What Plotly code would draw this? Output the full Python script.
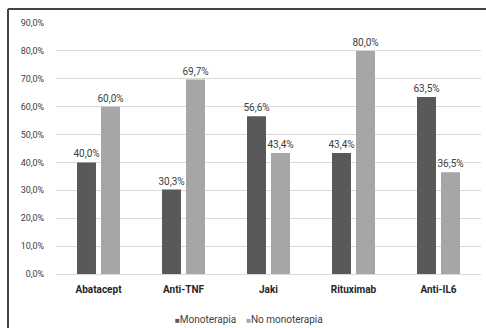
import plotly.graph_objects as go

# Share of patients per treatment group (percent)
categories = ["Abatacept", "Anti-TNF", "Jaki", "Rituximab", "Anti-IL6"]
monoterapia = [40.0, 30.3, 56.6, 43.4, 63.5]
no_monoterapia = [60.0, 69.7, 43.4, 80.0, 36.5]
series_names = ["Monoterapia", "No monoterapia"]
y_ticks = [0, 10, 20, 30, 40, 50, 60, 70, 80, 90]
y_tick_text = [f"{v:.1f}%".replace(".", ",") for v in y_ticks]

DARK = "#595959"
LIGHT = "#A6A6A6"
TEXT = "#404040"
FRAME = "#454545"
FONT = "Roboto"

fig = go.Figure()
for name, values, color in [(series_names[0], monoterapia, DARK),
                            (series_names[1], no_monoterapia, LIGHT)]:
    fig.add_trace(go.Bar(
        x=categories, y=values, name=name,
        marker=dict(color=color, line=dict(width=0)),
        texttemplate="%{y:.1f}%", textposition="outside",
        textfont=dict(family=FONT, size=10, color=TEXT),
        constraintext="none",
        cliponaxis=False, showlegend=False,
    ))

# Outer frame (left and top border) drawn on a full-page overlay subplot
fig.add_trace(go.Scatter(
    x=[0, 0, 1.05], y=[-0.05, 1, 1], xaxis="x2", yaxis="y2",
    mode="lines", line=dict(color=FRAME, width=2),
    cliponaxis=False, showlegend=False, hoverinfo="skip",
))

fig.update_layout(
    width=486, height=328,
    margin=dict(l=8, r=0, t=9, b=0, autoexpand=False),
    paper_bgcolor="white", plot_bgcolor="rgba(0,0,0,0)",
    barmode="group", bargap=0.435, bargroupgap=0.21,
    separators=",.",
    font=dict(family=FONT, size=9, color=TEXT),
    xaxis=dict(
        domain=[0.10042, 0.98954], anchor="y",
        showgrid=False, showline=True, linecolor="#D9D9D9", linewidth=1,
        tickfont=dict(family=FONT, size=10, color="#262626", weight="bold"),
        ticks="outside", ticklen=6, tickcolor="rgba(0,0,0,0)",
    ),
    yaxis=dict(
        domain=[0.16928, 0.95611], anchor="x",
        range=[0, 90], tickmode="array", tickvals=y_ticks, ticktext=y_tick_text,
        showgrid=True, gridcolor="#D9D9D9", gridwidth=1,
        zeroline=False, showline=False,
        tickfont=dict(family=FONT, size=9, color=TEXT),
        ticks="outside", ticklen=9, tickcolor="rgba(0,0,0,0)",
    ),
    xaxis2=dict(domain=[0, 1], anchor="y2", range=[0, 1], visible=False,
                fixedrange=True),
    yaxis2=dict(domain=[0, 1], anchor="x2", range=[0, 1], visible=False,
                fixedrange=True),
)

# Same border as paper-referenced shapes on the top layer
fig.add_shape(type="line", xref="paper", yref="paper", layer="above",
              x0=0, x1=1, y0=1, y1=1, line=dict(color=FRAME, width=2))
fig.add_shape(type="line", xref="paper", yref="paper", layer="above",
              x0=0, x1=0, y0=0, y1=1, line=dict(color=FRAME, width=2))

# Legend row
fig.add_annotation(
    xref="paper", yref="paper", x=0.504, y=0.0282,
    xanchor="center", yanchor="middle", showarrow=False,
    text=(f"<span style='color:{DARK};font-size:8px'>■</span>{series_names[0]}"
          f"&nbsp;&nbsp;&nbsp;&nbsp;"
          f"<span style='color:{LIGHT};font-size:8px'>■</span>{series_names[1]}"),
    font=dict(family=FONT, size=10, color=TEXT),
)

fig.write_html("out.html")
